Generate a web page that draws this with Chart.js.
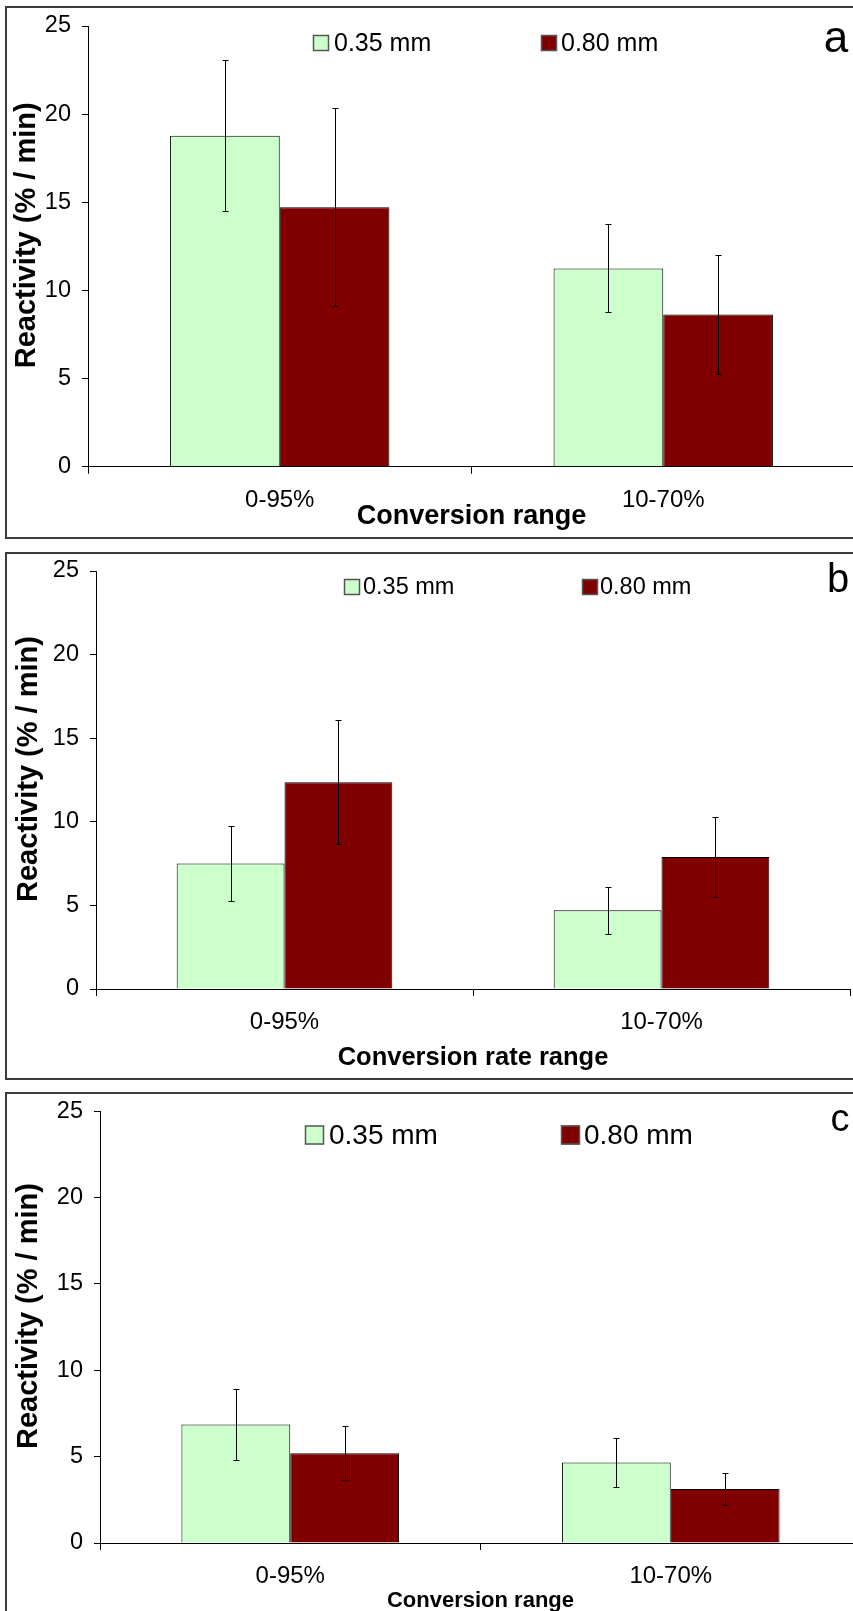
<!DOCTYPE html>
<html>
<head>
<meta charset="utf-8">
<script src="https://cdn.jsdelivr.net/npm/chart.js@4.4.0/dist/chart.umd.min.js"></script>
<style>
  html, body { margin: 0; padding: 0; background: #fff; width: 853px; height: 1611px; overflow: hidden; position: relative; }
  .frame { position: absolute; left: 5px; width: 900px; box-sizing: border-box; border: 2px solid #3c3c3c; }
  canvas { position: absolute; left: 0; }
</style>
</head>
<body>
<div class="frame" style="top:6px;height:533px"></div>
<div class="frame" style="top:552px;height:528px"></div>
<div class="frame" style="top:1092px;height:560px"></div>
<canvas id="chartA" width="880" height="540" style="top:0px"></canvas>
<canvas id="chartB" width="880" height="540" style="top:545px"></canvas>
<canvas id="chartC" width="880" height="545" style="top:1086px"></canvas>
<script>
// categories / series / ticks
const categories = ["0-95%", "10-70%"];
const seriesLabels = ["0.35 mm", "0.80 mm"];
const yTicks = [0, 5, 10, 15, 20, 25];
const yTitle = "Reactivity (% / min)";

// panel a
const aSmall = [18.78, 11.25];
const aSmallErr = [4.3, 2.5];
const aLarge = [14.72, 8.63];
const aLargeErr = [5.6, 3.36];

// panel b
const bSmall = [7.5, 4.71];
const bSmallErr = [2.25, 1.42];
const bLarge = [12.36, 7.89];
const bLargeErr = [3.7, 2.37];

// panel c
const cSmall = [6.86, 4.66];
const cSmallErr = [2.05, 1.4];
const cLarge = [5.2, 3.12];
const cLargeErr = [1.56, 0.93];

const FONT = '"Liberation Sans", Arial, sans-serif';
Chart.defaults.font.family = FONT;
Chart.defaults.color = "#000";

// draws the +/- error bars on top of each bar
const errorBarPlugin = {
  id: "errorBars",
  afterDatasetsDraw(chart) {
    const ctx = chart.ctx;
    const yScale = chart.scales.y;
    ctx.save();
    ctx.strokeStyle = "#000";
    ctx.lineWidth = 1;
    chart.data.datasets.forEach((ds, i) => {
      chart.getDatasetMeta(i).data.forEach((bar, j) => {
        const v = ds.data[j];
        const e = ds.errorBars[j];
        const x = Math.round(bar.x) + 0.5;
        const yHi = Math.round(yScale.getPixelForValue(v + e)) + 0.5;
        const yLo = Math.round(yScale.getPixelForValue(v - e)) + 0.5;
        ctx.beginPath();
        ctx.moveTo(x, yHi); ctx.lineTo(x, yLo);
        ctx.moveTo(x - 3, yHi); ctx.lineTo(x + 3, yHi);
        ctx.moveTo(x - 3, yLo); ctx.lineTo(x + 3, yLo);
        ctx.stroke();
      });
    });
    ctx.restore();
  }
};

// legend inside the plot, panel letter and the y title
const panelLegendPlugin = {
  id: "panelLegend",
  afterDraw(chart, args, opts) {
    const ctx = chart.ctx;
    const area = chart.chartArea;
    ctx.save();
    ctx.font = `${opts.fontSize}px ${FONT}`;
    ctx.textBaseline = "middle";
    ctx.textAlign = "left";
    chart.data.datasets.forEach((ds, i) => {
      const bx = opts.boxX[i];
      const by = opts.y - opts.box / 2;
      ctx.fillStyle = ds.backgroundColor;
      ctx.fillRect(bx, by, opts.box, opts.box);
      ctx.strokeStyle = "#555";
      ctx.lineWidth = 1.5;
      ctx.strokeRect(bx + 0.5, by + 0.5, opts.box - 1, opts.box - 1);
      ctx.fillStyle = "#000";
      ctx.fillText(ds.label, opts.textX[i], opts.y + 1);
    });
    ctx.font = `${opts.letterSize}px ${FONT}`;
    ctx.textAlign = "center";
    ctx.textBaseline = "alphabetic";
    ctx.fillText(opts.letter, opts.letterX, opts.letterY);

    // rotated y axis title, sits a bit above the plot centre
    ctx.translate(opts.yTitleX, (area.top + area.bottom) / 2 - 11);
    ctx.rotate(-Math.PI / 2);
    ctx.font = `bold 29px ${FONT}`;
    ctx.textBaseline = "middle";
    ctx.fillText(yTitle, 0, 0);
    ctx.restore();
  }
};

function buildPanel(id, small, smallErr, large, largeErr, xTitle, L) {
  const ctx = document.getElementById(id).getContext("2d");
  return new Chart(ctx, {
    type: "bar",
    data: {
      labels: categories,
      datasets: [
        {
          label: seriesLabels[0],
          data: small,
          errorBars: smallErr,
          backgroundColor: "#CCFFCC",
          borderColor: "#000",
          borderWidth: 1,
          barPercentage: 1,
          categoryPercentage: 0.572
        },
        {
          label: seriesLabels[1],
          data: large,
          errorBars: largeErr,
          backgroundColor: "#800000",
          borderColor: "#000",
          borderWidth: 1,
          barPercentage: 1,
          categoryPercentage: 0.572
        }
      ]
    },
    options: {
      responsive: false,
      animation: false,
      devicePixelRatio: 1,
      layout: { padding: { left: 0, top: L.padTop, right: L.padRight, bottom: 0 } },
      plugins: {
        legend: { display: false },
        tooltip: { enabled: false },
        panelLegend: L.legend
      },
      scales: {
        x: {
          afterFit: s => { s.height = L.xHeight; },
          grid: { offset: true, drawOnChartArea: false, tickLength: 7, color: "#000" },
          border: { color: "#000", width: 1 },
          ticks: { padding: 12, font: { size: 24 }, color: "#000", maxRotation: 0 },
          title: {
            display: true,
            text: xTitle,
            color: "#000",
            font: { size: L.xTitleSize, weight: "bold" },
            padding: { top: 0, bottom: L.xTitlePad }
          }
        },
        y: {
          min: 0,
          max: 25,
          afterBuildTicks: s => { s.ticks = yTicks.map(v => ({ value: v })); },
          afterFit: s => { s.width = L.yWidth; },
          grid: { drawOnChartArea: false, tickLength: 6, color: "#000" },
          border: { color: "#000", width: 1 },
          ticks: { padding: 11, font: { size: 23.5 }, color: "#000" },
          title: { display: false }
        }
      }
    },
    plugins: [errorBarPlugin, panelLegendPlugin]
  });
}

buildPanel("chartA", aSmall, aSmallErr, aLarge, aLargeErr, "Conversion range", {
  padTop: 26, padRight: 25, yWidth: 88, xHeight: 73.3, xTitleSize: 27, xTitlePad: 7,
  legend: { fontSize: 25, box: 16, y: 43, boxX: [313, 541], textX: [334, 561],
            letter: "a", letterSize: 44, letterX: 836, letterY: 52, yTitleX: 27 }
});

buildPanel("chartB", bSmall, bSmallErr, bLarge, bLargeErr, "Conversion rate range", {
  padTop: 26, padRight: 30, yWidth: 96, xHeight: 96, xTitleSize: 25.5, xTitlePad: 11.7,
  legend: { fontSize: 23.5, box: 16, y: 42, boxX: [344, 582], textX: [363, 600],
            letter: "b", letterSize: 40, letterX: 838, letterY: 47, yTitleX: 29 }
});

buildPanel("chartC", cSmall, cSmallErr, cLarge, cLargeErr, "Conversion range", {
  padTop: 25, padRight: 19, yWidth: 100, xHeight: 88, xTitleSize: 22, xTitlePad: 16.8,
  legend: { fontSize: 28, box: 19, y: 49, boxX: [305, 561], textX: [329, 584],
            letter: "c", letterSize: 38, letterX: 840, letterY: 45, yTitleX: 29 }
});
</script>
</body>
</html>
